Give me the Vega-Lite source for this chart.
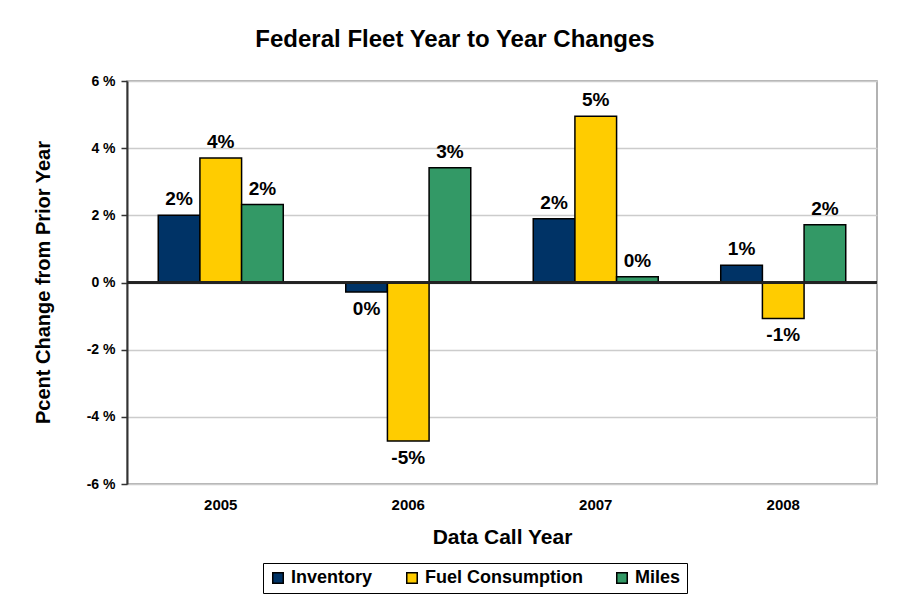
{
  "$schema": "https://vega.github.io/schema/vega-lite/v6.json",
  "autosize": "none",
  "width": 750,
  "height": 403,
  "padding": {"left": 127, "top": 81, "right": 32, "bottom": 119},
  "background": "white",
  "title": {
    "text": "Federal Fleet Year to Year Changes",
    "font": "Liberation Sans",
    "fontSize": 24,
    "fontWeight": "bold",
    "color": "black",
    "anchor": "middle",
    "dx": -47,
    "offset": 22
  },
  "data": {
    "values": [
      {"year": "2005", "series": "Inventory", "v": 2.0},
      {"year": "2005", "series": "Fuel Consumption", "v": 3.71},
      {"year": "2005", "series": "Miles", "v": 2.32},
      {"year": "2006", "series": "Inventory", "v": -0.28},
      {"year": "2006", "series": "Fuel Consumption", "v": -4.72},
      {"year": "2006", "series": "Miles", "v": 3.42},
      {"year": "2007", "series": "Inventory", "v": 1.9},
      {"year": "2007", "series": "Fuel Consumption", "v": 4.95},
      {"year": "2007", "series": "Miles", "v": 0.17},
      {"year": "2008", "series": "Inventory", "v": 0.51},
      {"year": "2008", "series": "Fuel Consumption", "v": -1.07},
      {"year": "2008", "series": "Miles", "v": 1.72}
    ]
  },
  "transform": [
    {"calculate": "(round(datum.v) + 0) + '%'", "as": "label"}
  ],
  "encoding": {
    "x": {
      "field": "year",
      "type": "nominal",
      "scale": {"paddingInner": 0.3333, "paddingOuter": 0.1667},
      "axis": {
        "title": "Data Call Year",
        "titleFont": "Liberation Sans",
        "titleFontSize": 21,
        "titleFontWeight": "bold",
        "titleColor": "black",
        "titlePadding": 14,
        "labelFont": "Liberation Sans",
        "labelFontSize": 15,
        "labelFontWeight": "bold",
        "labelColor": "black",
        "labelAngle": 0,
        "labelPadding": 13,
        "domain": false,
        "ticks": false
      }
    },
    "xOffset": {"field": "series", "type": "nominal", "sort": ["Inventory", "Fuel Consumption", "Miles"]},
    "y": {
      "field": "v",
      "type": "quantitative",
      "scale": {"domain": [-6, 6], "nice": false},
      "axis": {
        "title": "Pcent Change from Prior Year",
        "titleFont": "Liberation Sans",
        "titleFontSize": 20,
        "titleFontWeight": "bold",
        "titleColor": "black",
        "titleX": -84,
        "titleY": 201,
        "titleAlign": "center",
        "titleBaseline": "middle",
        "values": [-6, -4, -2, 0, 2, 4, 6],
        "labelExpr": "datum.value + ' %'",
        "labelFont": "Liberation Sans",
        "labelFontSize": 14,
        "labelFontWeight": "bold",
        "labelColor": "black",
        "labelPadding": 6,
        "domainColor": "#333333",
        "domainWidth": 2,
        "tickColor": "#333333",
        "tickSize": 6,
        "tickWidth": 1.5,
        "gridColor": "#cccccc",
        "gridWidth": 1.5
      }
    }
  },
  "layer": [
    {
      "mark": {"type": "bar", "stroke": "black", "strokeWidth": 1.5},
      "encoding": {
        "color": {
          "field": "series",
          "type": "nominal",
          "sort": ["Inventory", "Fuel Consumption", "Miles"],
          "scale": {"domain": ["Inventory", "Fuel Consumption", "Miles"], "range": ["#003366", "#ffcc00", "#339966"]},
          "legend": {
            "orient": "none",
            "legendX": 136,
            "legendY": 482,
            "direction": "horizontal",
            "title": null,
            "symbolType": "square",
            "symbolSize": 110,
            "symbolStrokeColor": "black",
            "symbolStrokeWidth": 1.5,
            "labelFont": "Liberation Sans",
            "labelFontSize": 18,
            "labelFontWeight": "bold",
            "labelColor": "black",
            "labelOffset": 4,
            "columnPadding": 30,
            "strokeColor": "black",
            "padding": 6,
            "fillColor": "white"
          }
        }
      }
    },
    {
      "mark": {"type": "rule", "color": "#222222", "strokeWidth": 1.5},
      "encoding": {"y": {"datum": 0}, "x": null, "xOffset": null}
    },
    {
      "transform": [{"filter": "datum.v >= 0"}],
      "mark": {"type": "text", "baseline": "bottom", "dy": -6, "font": "Liberation Sans", "fontSize": 19, "fontWeight": "bold", "color": "black"},
      "encoding": {"text": {"field": "label"}}
    },
    {
      "transform": [{"filter": "datum.v < 0"}],
      "mark": {"type": "text", "baseline": "top", "dy": 8, "font": "Liberation Sans", "fontSize": 19, "fontWeight": "bold", "color": "black"},
      "encoding": {"text": {"field": "label"}}
    }
  ],
  "config": {
    "view": {"stroke": "#999999", "strokeWidth": 1.5}
  }
}
